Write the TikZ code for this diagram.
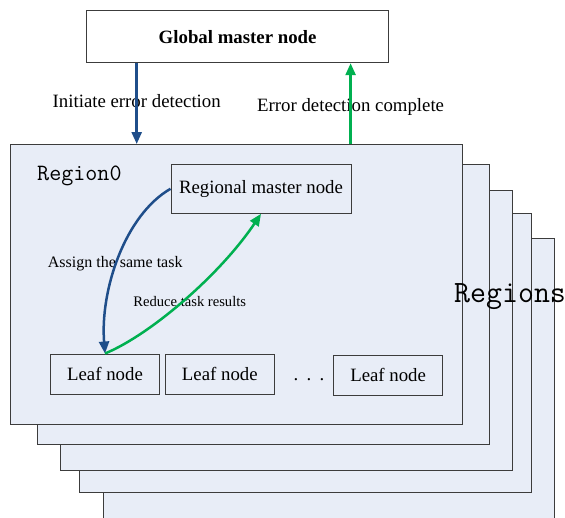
\documentclass[tikz,border=0pt]{standalone}
\usepackage{fontspec}
\setmainfont{Liberation Serif}
\usetikzlibrary{positioning, arrows.meta}
\definecolor{TaskBlue}{HTML}{1F4E8A}
\definecolor{DoneGreen}{HTML}{00B050}
\definecolor{RegionFill}{HTML}{E8EDF7}
\definecolor{RegionLine}{HTML}{3C3C3C}

\begin{document}
\begin{tikzpicture}[
    x=1pt, y=-1pt,
    layer/.style={draw=RegionLine, fill=RegionFill, line width=1pt, anchor=north west,
      minimum width=451.5pt, minimum height=279.5pt, inner sep=0pt},
    box/.style={draw=RegionLine, line width=1pt, inner sep=0pt,
      font=\fontsize{18.8pt}{22pt}\selectfont},
    lbl/.style={inner sep=0pt, font=\fontsize{18.8pt}{22pt}\selectfont},
    down/.style={TaskBlue, line width=2.5pt, -{Triangle[length=12pt,width=10pt]}},
    up/.style={DoneGreen, line width=2.5pt, -{Triangle[length=12pt,width=10pt]}}
]
  \useasboundingbox (0,0) rectangle (565,517);
  % Stack of regions, back to front
  \node[layer] (region4) at (102.7,238.3) {};
  \node[layer] (region3) at (79.3,212.7) {};
  \node[layer] (region2) at (60.2,190) {};
  \node[layer] (region1) at (37.3,164.3) {};
  \node[layer] (region0) at (10,144) {};
  \node[anchor=base west, inner sep=0pt, font=\ttfamily\fontsize{23.4pt}{27pt}\selectfont]
    (r0name) at (37,180) {Region0};
  \node[anchor=base west, inner sep=0pt, font=\ttfamily\fontsize{31pt}{35pt}\selectfont]
    (rsname) at (454,302) {Regions};
  % Masters and leaves
  \node[box, fill=white, minimum width=302pt, minimum height=52pt, font=\bfseries\fontsize{18.8pt}{22pt}\selectfont]
    (gmaster) at (237.6,36.7) {Global master node};
  \node[box, minimum width=180pt, minimum height=49pt] (rmaster) at (261,188.8) {Regional master node};
  \node[box, minimum width=108.6pt, minimum height=40pt] (leaf1) at (105,374) {Leaf node};
  \node[box, minimum width=109.6pt, minimum height=40pt] (leaf2) at (219.8,374) {Leaf node};
  \node[box, minimum width=109.6pt, minimum height=40pt] (leafn) at (388.1,375) {Leaf node};
  \node[lbl, anchor=base] (dots) at (309,380) {.\hspace{8.3pt}.\hspace{8.3pt}.};
  % Labels
  \node[lbl] (initlbl) at (136.7,100.9) {Initiate error detection};
  \node[lbl] (donelbl) at (350.6,107.4) {Error detection complete};
  \node[inner sep=0pt, font=\fontsize{16pt}{19pt}\selectfont] (assignlbl) at (115.2,264) {Assign the same task};
  \node[inner sep=0pt, font=\fontsize{14.6pt}{17pt}\selectfont] (reducelbl) at (189.7,301.3) {Reduce task results};
  % Arrows
  \draw[down] (gmaster.south -| initlbl) -- (region0.north -| initlbl);
  \draw[up] (region0.north -| donelbl) -- (gmaster.south -| donelbl);
  \draw[down] (rmaster.west) .. controls (125,215) and (100,290) .. (leaf1.north);
  \draw[up] (leaf1.north) .. controls (150,335) and (220,275) .. (rmaster.south);
\end{tikzpicture}
\end{document}
